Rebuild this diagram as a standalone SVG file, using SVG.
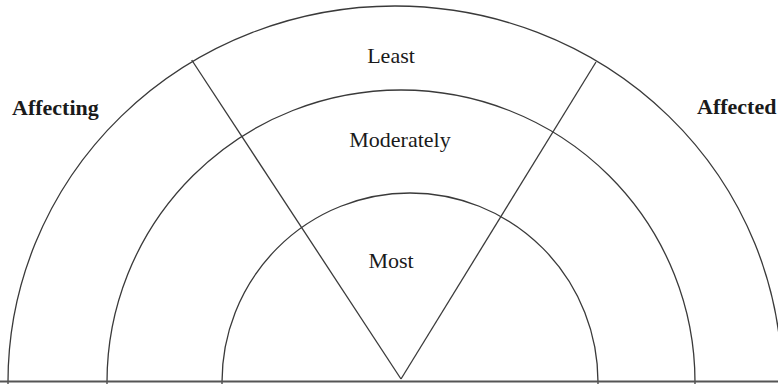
<svg xmlns="http://www.w3.org/2000/svg" width="778" height="384" viewBox="0 0 778 384">
<style>
.arc{fill:none;stroke:#3a3a3a;stroke-width:1.3}
.ln{stroke:#3a3a3a;stroke-width:1.3}
.t{font-family:"Liberation Serif","Times New Roman",serif;font-size:22px;fill:#1a1a1a}
.b{font-weight:bold}
</style>
<rect width="778" height="384" fill="#ffffff"/>
<g id="outer"><ellipse class="arc" cx="395" cy="382" rx="387" ry="376"/></g>
<g id="middle"><ellipse class="arc" cx="401" cy="382" rx="294" ry="292"/></g>
<g id="inner"><ellipse class="arc" cx="410" cy="382" rx="188" ry="189"/></g>
<g id="connectors">
<line class="ln" x1="401" y1="379" x2="191.7" y2="60"/>
<line class="ln" x1="401" y1="379" x2="596" y2="62"/>
<line x1="0" y1="381.5" x2="778" y2="381.5" stroke="#555" stroke-width="2"/>
</g>
<g id="labels">
<text class="t" x="391" y="63" text-anchor="middle">Least</text>
<text class="t" x="400" y="147" text-anchor="middle">Moderately</text>
<text class="t" x="391" y="268" text-anchor="middle">Most</text>
<text class="t b" x="12" y="115">Affecting</text>
<text class="t b" x="697" y="114">Affected</text>
</g>
</svg>
